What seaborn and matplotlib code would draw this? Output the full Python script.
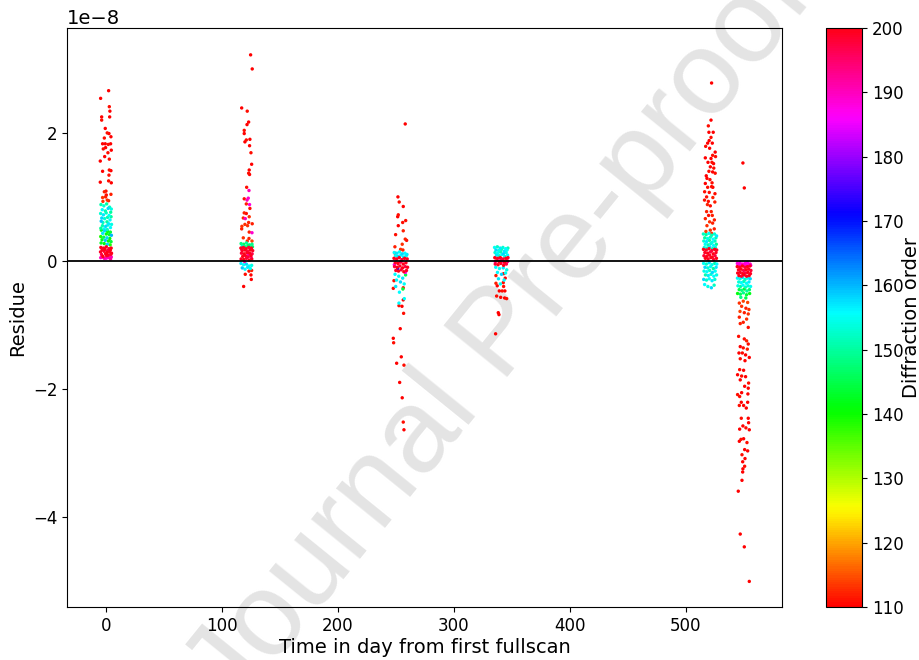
import numpy as np
import pandas as pd
import seaborn as sns
import matplotlib.pyplot as plt
from matplotlib.colors import Normalize
from matplotlib.cm import ScalarMappable

# residues are given in units of 1e-8

# ---- scan group around day 0 ----
day_c1 = [2.3, -4.6, 2.9, 3.4, -3.7, -3.7, 3.2, -0.6, 1.1, 2.6, 4.3, -1.4, -2.9, -0.6, 2.0, 4.0, -2.3, -0.3, 4.6, 1.7,
          -1.1, 2.9, -4.9, -2.9, 2.9, 4.3, 2.6, -4.9, 2.3, 4.6, 0.0, -1.4, 0.3, 4.3, -2.9, -0.3, 1.1, 2.3, -2.6,
          -4.3, -1.8, 0.6, 3.1, 4.6, -3.2, -0.5, 1.9, 4.1, -4.6, -2.2, 0.2, 2.7, 4.4, -3.6, -1.1, 1.4, 3.5, -4.1, -2.6,
          0.9, 2.3, 4.8, -3.0, -0.2, 1.7, 3.9, -4.4, -1.5, 1.1,
          -4.0, -1.2, 1.5, 3.8, -2.8, 0.3, 2.9, 4.7, -4.5, -1.9, 0.9, 3.3, -3.4, -0.6, 2.1, 4.4, -4.2, -1.5, 1.2, 3.6,
          -4.4, -2.1, 0.3, 2.6, 4.5, -3.3, -0.9, 1.5, 3.8, -4.7, -1.6, 0.9, 3.2, 4.8, -3.8, -0.3, 2.0, 4.2, -2.6, 0.6,
          -4.5, -1.5, 1.2, 4.0, -3.0, 0.0, 2.7, 4.6]
res_c1 = [2.66, 2.54, 2.41, 2.34, 2.25, 2.20, 2.25, 2.07, 2.00, 1.99, 1.94, 1.92, 1.83, 1.83, 1.82, 1.83, 1.75, 1.77, 1.73, 1.69,
          1.63, 1.59, 1.56, 1.40, 1.42, 1.41, 1.34, 1.23, 1.25, 1.22, 1.09, 1.08, 1.03, 1.04, 0.99, 1.00, 0.95, 0.94, 0.93,
          0.88, 0.86, 0.89, 0.84, 0.81, 0.80, 0.78, 0.82, 0.76, 0.74, 0.72, 0.75, 0.71, 0.69, 0.67, 0.66, 0.68, 0.64, 0.62, 0.60,
          0.61, 0.58, 0.57, 0.55, 0.54, 0.56, 0.52, 0.51, 0.50, 0.49,
          0.48, 0.47, 0.46, 0.45, 0.43, 0.42, 0.41, 0.40, 0.38, 0.37, 0.36, 0.35, 0.33, 0.32, 0.31, 0.30, 0.28, 0.27, 0.26, 0.25,
          0.21, 0.20, 0.22, 0.19, 0.20, 0.17, 0.18, 0.16, 0.17, 0.14, 0.15, 0.13, 0.14, 0.12, 0.10, 0.11, 0.09, 0.10, 0.07, 0.08,
          0.05, 0.04, 0.05, 0.03, 0.06, 0.04, 0.05, 0.06]
ord_c1 = [110, 110, 111, 110, 110, 111, 110, 110, 111, 110, 110, 111, 110, 110, 111, 110, 111, 110, 110, 111,
          110, 111, 110, 110, 111, 110, 111, 110, 111, 110, 111, 112, 111, 112, 113, 112, 113, 112, 113,
          151, 153, 150, 152, 154, 156, 151, 158, 150, 153, 157, 152, 155, 150, 158, 153, 151, 156, 159, 152,
          150, 157, 154, 151, 158, 153, 156, 150, 155, 152,
          142, 158, 140, 144, 157, 141, 143, 160, 139, 145, 158, 141, 142, 159, 140, 144, 143, 141, 158, 139,
          200, 199, 200, 198, 200, 199, 200, 197, 200, 199, 198, 200, 199, 200, 197, 200, 199, 198, 200, 199,
          190, 191, 189, 192, 190, 188, 191, 190]

# ---- scan group around day 120 ----
day_c2 = [124.7, 126.1, 117.0, 121.8, 123.0, 121.6, 119.2, 119.2, 124.1, 121.0, 119.8, 123.8, 125.0, 125.6, 123.5, 123.0,
          123.8, 121.3, 123.3, 119.2, 122.7, 121.6, 121.0, 123.8, 124.1, 119.2, 121.0, 123.5, 118.4, 120.1, 123.0, 119.8,
          126.1, 117.2, 117.0, 122.1, 123.5, 125.9, 118.4, 123.3, 121.8, 125.9, 120.1, 125.0, 125.6, 123.3, 125.3, 118.7,
          116.5, 118.8, 121.2, 123.6, 125.9, 117.6, 120.0, 122.4, 124.8, 126.3,
          116.3, 118.5, 120.8, 123.1, 125.4, 117.4, 119.7, 122.0, 124.3, 126.5, 116.8, 119.1, 121.5, 123.8, 126.0,
          117.9, 120.3, 122.6, 125.0, 116.5, 118.8, 121.1, 123.4, 125.7,
          117.0, 122.8, 119.5, 125.2,
          116.4, 118.7, 121.0, 123.3, 125.6, 117.5, 119.9, 122.2, 124.5]
res_c2 = [3.22, 3.00, 2.39, 2.34, 2.17, 2.13, 2.04, 1.99, 1.90, 1.89, 1.86, 1.80, 1.69, 1.51, 1.42, 1.37,
          1.35, 1.15, 1.10, 0.97, 0.98, 0.95, 0.89, 0.88, 0.82, 0.75, 0.74, 0.69, 0.67, 0.66, 0.60, 0.57,
          0.58, 0.54, 0.50, 0.55, 0.45, 0.44, 0.36, 0.35, 0.31, 0.31, -0.21, -0.22, -0.15, -0.16, -0.29, -0.40,
          0.27, 0.26, 0.28, 0.25, 0.26, 0.23, 0.22, 0.24, 0.21, 0.22,
          0.20, 0.21, 0.19, 0.21, 0.20, 0.16, 0.17, 0.15, 0.17, 0.16, 0.12, 0.11, 0.13, 0.12, 0.11,
          0.07, 0.08, 0.06, 0.08, 0.03, 0.02, 0.04, 0.01, 0.03,
          0.18, 0.09, -0.01, 0.05,
          -0.04, -0.06, -0.05, -0.08, -0.07, -0.11, -0.13, -0.10, -0.12]
ord_c2 = [110, 110, 110, 111, 110, 110, 111, 110, 110, 111, 110, 110, 111, 110, 110, 111,
          110, 111, 190, 111, 189, 190, 112, 188, 111, 112, 111, 113, 112, 190, 112, 113,
          112, 113, 112, 113, 112, 189, 113, 112, 113, 114, 111, 110, 112, 111, 110, 110,
          148, 146, 150, 147, 149, 152, 148, 146, 150, 147,
          200, 199, 200, 198, 200, 199, 200, 197, 200, 199, 198, 200, 199, 200, 197,
          200, 199, 198, 200, 199, 200, 198, 200, 199,
          190, 189, 191, 188,
          157, 155, 158, 156, 154, 159, 156, 157, 155]

# ---- scan group around day 255 ----
day_c3 = [258.0, 251.7, 252.8, 256.3, 252.0, 251.5, 258.4, 255.8, 252.0, 256.3, 249.7, 258.0, 259.2, 255.4, 249.1, 254.0,
          256.0, 249.1, 248.3, 247.7, 256.3, 256.3, 252.6, 255.2, 256.6, 253.7, 247.7, 248.0, 254.6, 250.6, 256.9, 253.2,
          255.4, 256.3, 256.9,
          248.5, 250.8, 253.1, 255.4, 257.7, 259.5, 249.6, 252.0, 254.3, 256.6, 258.8,
          248.3, 250.6, 252.9, 255.2, 257.5, 259.7, 249.4, 251.7, 254.0, 256.3, 258.6, 248.8, 251.1, 253.4, 255.7, 258.0,
          260.0, 249.9, 252.2, 254.5, 256.8, 259.1,
          248.6, 251.5, 255.0, 258.2,
          249.2, 252.4, 255.8, 258.3, 250.5, 253.9, 257.1, 249.8, 256.0, 253.0, 257.2, 252.6]
res_c3 = [2.14, 1.00, 0.92, 0.85, 0.72, 0.69, 0.63, 0.60, 0.55, 0.47, 0.41, 0.34, 0.32, 0.26, 0.22, 0.18,
          0.17, 0.12, -0.31, -0.43, -0.42, -0.61, -0.70, -0.71, -0.82, -1.06, -1.21, -1.28, -1.50, -1.60, -1.63, -1.90,
          -2.14, -2.52, -2.64,
          0.13, 0.12, 0.14, 0.11, 0.12, 0.10, 0.08, 0.07, 0.09, 0.06, 0.08,
          0.04, 0.03, 0.05, 0.02, 0.04, 0.03, -0.03, -0.04, -0.02, -0.05, -0.03, -0.09, -0.10, -0.08, -0.11, -0.09,
          -0.10, -0.15, -0.16, -0.14, -0.17, -0.15,
          -0.06, -0.12, 0.00, -0.18,
          -0.21, -0.24, -0.27, -0.22, -0.30, -0.33, -0.36, -0.40, -0.44, -0.49, -0.59, -0.66]
ord_c3 = [110, 110, 111, 110, 111, 110, 111, 111, 110, 112, 111, 112, 111, 113, 112, 113,
          112, 112, 111, 111, 112, 110, 111, 110, 111, 110, 110, 111, 110, 110, 111, 110,
          110, 111, 110,
          156, 157, 155, 158, 156, 157, 155, 158, 156, 157, 155,
          200, 199, 200, 198, 200, 199, 199, 200, 197, 200, 199, 198, 200, 199, 200, 197,
          200, 199, 200, 198, 200, 199,
          188, 172, 190, 186,
          156, 155, 157, 145, 156, 158, 155, 157, 144, 156, 155, 156]

# ---- scan group around day 340 ----
day_c4 = [336.2, 342.8, 344.2, 342.5, 336.2, 337.3, 342.8, 339.1, 341.6, 343.9, 336.8, 340.3, 343.7, 345.4, 338.2, 338.8,
          335.9,
          335.0, 337.4, 339.8, 342.2, 344.6, 346.5, 336.2, 338.6, 341.0, 343.4, 345.8, 335.4, 337.8, 340.2, 342.6, 345.0,
          336.6, 339.0, 341.4, 343.8, 346.2,
          335.2, 337.6, 340.0, 342.4, 344.8, 346.6, 336.4, 338.8, 341.2, 343.6, 346.0, 335.6, 338.0, 340.4, 342.8, 345.2,
          335.5, 339.5, 343.0, 346.3,
          336.0, 339.2, 342.5, 345.5, 337.5, 341.0, 344.5, 338.4, 343.2, 340.0]
res_c4 = [-0.23, -0.20, -0.27, -0.34, -0.35, -0.39, -0.40, -0.47, -0.47, -0.47, -0.55, -0.57, -0.58, -0.59, -0.81, -0.84,
          -1.14,
          0.21, 0.22, 0.20, 0.21, 0.19, 0.20, 0.17, 0.16, 0.18, 0.15, 0.17, 0.13, 0.12, 0.14, 0.11, 0.13,
          0.09, 0.08, 0.10, 0.07, 0.09,
          0.05, 0.04, 0.05, 0.03, 0.04, 0.05, 0.00, -0.01, 0.01, -0.02, 0.00, -0.05, -0.06, -0.04, -0.07, -0.05,
          -0.01, 0.00, -0.02, -0.01,
          -0.10, -0.12, -0.11, -0.14, -0.18, -0.21, -0.19, -0.28, -0.30, -0.36]
ord_c4 = [112, 111, 110, 111, 112, 110, 111, 110, 111, 110, 111, 110, 110, 111, 110, 110,
          110,
          155, 152, 157, 153, 156, 151, 158, 154, 152, 157, 155, 153, 156, 151, 158, 154,
          157, 152, 155, 153, 156,
          200, 199, 200, 198, 200, 199, 199, 200, 197, 200, 199, 198, 200, 199, 200, 197,
          190, 189, 191, 190,
          156, 155, 157, 154, 156, 158, 155, 157, 156, 155]

# ---- scan group around day 520 ----
day_c5 = [522.1, 521.6, 519.3, 523.5, 519.8, 521.6, 518.7, 522.7, 517.0, 520.4, 525.2, 523.0, 516.7, 521.6, 525.5, 519.0,
          522.4, 523.8, 521.0, 519.8, 523.0, 525.2, 518.1, 520.7, 516.7, 522.1, 518.7, 523.2, 516.1, 520.1, 517.8, 523.2,
          519.3, 524.9, 521.0, 517.8, 521.8, 519.5, 522.7, 516.7, 520.4, 523.0, 518.1, 521.0, 524.4, 517.2, 522.1,
          520.0, 524.0, 517.5, 525.0, 518.5, 524.5, 516.0, 522.5, 549.1, 550.3,
          515.0, 517.4, 519.8, 522.2, 524.6, 526.4, 516.2, 518.6, 521.0, 523.4, 525.8, 515.4, 517.8, 520.2, 522.6, 525.0,
          516.6, 519.0, 521.4, 523.8, 526.2, 515.8, 518.2, 520.6, 523.0, 525.4,
          515.1, 517.5, 519.9, 522.3, 524.7, 526.5, 516.3, 518.7, 521.1, 523.5, 525.9, 515.5, 517.9, 520.3, 522.7, 525.1,
          516.7, 519.1, 521.5, 523.9, 526.3,
          515.2, 517.6, 520.0, 522.4, 524.8, 526.6, 516.4, 518.8, 521.2, 523.6, 526.0, 515.6, 518.0, 520.4, 522.8, 525.2,
          516.8, 519.2, 521.6, 524.0, 526.4, 515.3, 517.7, 520.1, 522.5, 524.9, 516.1, 518.9, 521.9, 524.3]
res_c5 = [2.78, 2.20, 2.11, 2.01, 2.01, 1.93, 1.84, 1.84, 1.79, 1.76, 1.70, 1.65, 1.61, 1.60, 1.63, 1.54,
          1.54, 1.52, 1.47, 1.40, 1.39, 1.37, 1.29, 1.27, 1.21, 1.16, 1.15, 1.15, 1.08, 1.07, 1.00, 0.99,
          0.93, 0.92, 0.86, 0.77, 0.77, 0.71, 0.71, 0.66, 0.61, 0.59, 0.55, 0.48, 0.50, 0.46, 0.43,
          1.88, 1.45, 1.33, 1.05, 0.88, 0.64, 0.95, 1.22, 1.53, 1.14,
          0.42, 0.41, 0.43, 0.40, 0.42, 0.39, 0.36, 0.35, 0.37, 0.34, 0.36, 0.31, 0.30, 0.32, 0.29, 0.31,
          0.26, 0.25, 0.27, 0.24, 0.26, 0.21, 0.20, 0.22, 0.19, 0.21,
          0.18, 0.17, 0.19, 0.16, 0.18, 0.17, 0.13, 0.12, 0.14, 0.11, 0.13, 0.08, 0.07, 0.09, 0.06, 0.08,
          0.04, 0.03, 0.05, 0.02, 0.04,
          -0.04, -0.05, -0.03, -0.06, -0.04, -0.05, -0.10, -0.11, -0.09, -0.12, -0.10, -0.16, -0.17, -0.15, -0.18, -0.16,
          -0.22, -0.23, -0.21, -0.24, -0.22, -0.29, -0.30, -0.28, -0.31, -0.29, -0.37, -0.40, -0.42, -0.38]
ord_c5 = [110, 110, 111, 110, 110, 111, 110, 110, 111, 110, 110, 111, 110, 110, 111, 110,
          111, 110, 110, 111, 110, 111, 110, 111, 110, 111, 111, 110, 111, 111, 111, 112,
          111, 112, 111, 112, 112, 111, 112, 112, 113, 112, 113, 113, 112, 114, 113,
          110, 111, 110, 111, 112, 112, 111, 111, 110, 110,
          152, 150, 155, 151, 153, 157, 150, 154, 152, 156, 151, 153, 157, 150, 154, 152,
          155, 151, 153, 156, 150, 154, 152, 157, 151, 153,
          200, 199, 200, 198, 200, 199, 199, 200, 197, 200, 199, 198, 200, 199, 200, 197,
          200, 199, 200, 198, 200,
          155, 152, 157, 154, 151, 156, 158, 153, 155, 150, 157, 154, 156, 152, 158, 155,
          151, 157, 153, 156, 154, 158, 152, 155, 157, 153, 156, 154, 158, 152]

# ---- scan group around day 550 ----
day_c6 = [549.4, 546.0, 553.2, 548.0, 551.7, 554.3, 546.6, 550.3, 553.7, 546.0, 552.3, 549.4, 546.8, 553.7, 545.4, 550.3,
          552.3, 553.7, 546.8, 549.4, 552.9, 545.7, 548.6, 551.4, 554.6, 546.8, 550.9, 546.3, 549.7, 544.5, 548.0, 551.4,
          546.8, 554.0, 550.6, 553.7, 544.5, 548.0, 553.4, 546.3, 547.7, 553.2, 546.0, 549.7, 552.0, 547.7, 553.7, 554.0,
          549.1, 551.7, 546.3, 554.6, 547.4, 549.7, 546.0, 552.6, 550.6, 553.2, 548.3, 550.9, 548.9, 550.6, 549.1, 548.9,
          548.3, 545.1, 546.8, 550.3, 554.6,
          544.3, 546.5, 548.7, 550.9, 553.1, 555.3, 545.4, 547.6, 549.8, 552.0, 554.2, 555.8,
          544.2, 546.4, 548.6, 550.8, 553.0, 555.2, 545.3, 547.5, 549.7, 551.9, 554.1, 556.0, 544.6, 546.8, 549.0, 551.2,
          553.4, 555.6, 545.7, 547.9, 550.1, 552.3, 554.5,
          544.4, 546.6, 548.8, 551.0, 553.2, 555.4, 545.5, 547.7, 549.9, 552.1, 554.3, 544.8, 547.0, 549.2, 551.4, 553.6,
          555.7, 545.9, 548.1, 550.3, 552.5, 554.7, 544.5, 546.9, 549.5, 552.2, 554.9, 547.3, 551.6]
res_c6 = [-0.63, -0.66, -0.65, -0.71, -0.74, -0.76, -0.79, -0.81, -0.83, -0.88, -0.91, -0.96, -0.98, -1.04, -1.18, -1.22,
          -1.25, -1.30, -1.34, -1.36, -1.38, -1.44, -1.44, -1.47, -1.51, -1.53, -1.56, -1.70, -1.71, -1.78, -1.80, -1.81,
          -1.86, -1.91, -1.96, -1.99, -2.09, -2.06, -2.08, -2.12, -2.21, -2.21, -2.26, -2.26, -2.30, -2.46, -2.46, -2.53,
          -2.58, -2.61, -2.63, -2.64, -2.79, -2.78, -2.82, -2.84, -2.95, -2.97, -3.03, -3.09, -3.14, -3.21, -3.25, -3.30,
          -3.43, -3.60, -4.27, -4.47, -5.01,
          -0.04, -0.03, -0.05, -0.04, -0.03, -0.05, -0.06, -0.07, -0.06, -0.07, -0.06, -0.07,
          -0.09, -0.10, -0.08, -0.10, -0.09, -0.08, -0.14, -0.13, -0.15, -0.14, -0.13, -0.15, -0.19, -0.18, -0.20, -0.19,
          -0.18, -0.20, -0.23, -0.24, -0.22, -0.24, -0.23,
          -0.27, -0.28, -0.26, -0.29, -0.27, -0.28, -0.33, -0.34, -0.32, -0.35, -0.33, -0.39, -0.40, -0.38, -0.41, -0.39,
          -0.40, -0.45, -0.46, -0.44, -0.47, -0.45, -0.51, -0.52, -0.50, -0.53, -0.51, -0.57, -0.58]
ord_c6 = [114, 113, 114, 113, 112, 113, 114, 112, 113, 112, 113, 112, 112, 111, 111, 111,
          112, 111, 110, 111, 112, 110, 111, 110, 110, 111, 110, 111, 110, 110, 111, 110,
          110, 111, 110, 110, 111, 110, 110, 111, 110, 110, 111, 110, 110, 111, 110, 110,
          110, 111, 110, 110, 111, 110, 110, 111, 110, 110, 111, 110, 110, 111, 110, 110,
          110, 110, 110, 110, 110,
          188, 187, 189, 188, 186, 190, 188, 187, 189, 188, 186, 188,
          200, 199, 200, 198, 200, 199, 199, 200, 197, 200, 199, 198, 200, 199, 200, 197,
          200, 199, 200, 198, 200, 199, 200,
          156, 154, 157, 152, 155, 158, 153, 156, 151, 155, 157, 154, 150, 156, 152, 153,
          155, 145, 148, 143, 150, 147, 141, 146, 149, 144, 142, 148, 145]

days = day_c1 + day_c2 + day_c3 + day_c4 + day_c5 + day_c6
residues = res_c1 + res_c2 + res_c3 + res_c4 + res_c5 + res_c6
orders = ord_c1 + ord_c2 + ord_c3 + ord_c4 + ord_c5 + ord_c6

df = pd.DataFrame({"day": days, "residue": np.array(residues) * 1e-8, "order": orders})
df = df.sort_values("order", kind="stable")

fig = plt.figure(figsize=(9.2, 6.6), dpi=100)

# watermark behind the plot
fig.text(0.545, 0.49, "Journal Pre-proof", rotation=51, fontsize=86, color="#e4e4e4",
         family="Liberation Sans", ha="center", va="center", zorder=-1)

ax = fig.add_axes([0.0728, 0.0803, 0.7772, 0.8773])
ax.patch.set_alpha(0)
sns.scatterplot(data=df, x="day", y="residue", hue="order", palette="hsv", hue_norm=(110, 200),
                s=6, linewidth=0, legend=False, ax=ax)
ax.axhline(0, color="black", lw=1.3, zorder=3)
ax.set_xlim(-33.6, 582.8)
ax.set_ylim(-5.41e-8, 3.64e-8)
ax.set_xlabel("Time in day from first fullscan", fontsize=14, labelpad=2)
ax.set_ylabel("Residue", fontsize=14)
ax.tick_params(labelsize=12)
ax.yaxis.get_offset_text().set_fontsize(14)

cax = fig.add_axes([0.898, 0.0803, 0.0391, 0.8773])
cb = fig.colorbar(ScalarMappable(norm=Normalize(110, 200), cmap="hsv"), cax=cax)
cb.set_ticks(range(110, 201, 10))
cb.set_label("Diffraction order", fontsize=14, labelpad=-1)
cb.ax.tick_params(labelsize=12)

fig.savefig("out.png", dpi=100)
